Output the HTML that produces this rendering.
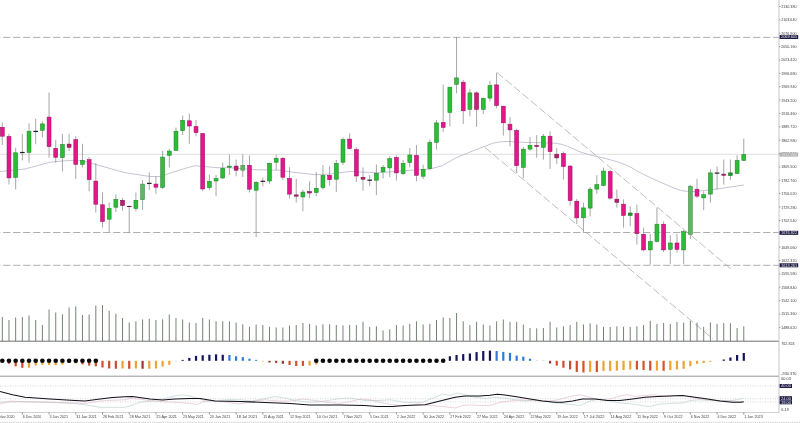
<!DOCTYPE html>
<html lang="en"><head><meta charset="utf-8"><title>XAUUSD Weekly</title>
<style>html,body{margin:0;padding:0;background:#fff;overflow:hidden}svg{display:block;will-change:transform}text{font-family:"Liberation Sans",sans-serif}</style></head><body>
<svg width="800" height="423" viewBox="0 0 800 423">
<rect width="800" height="423" fill="#fff"/>
<line x1="0" y1="154.3" x2="779.0" y2="154.3" stroke="#d0d0d2" stroke-width="0.7"/>
<line x1="-6.9" y1="37.4" x2="779.0" y2="37.4" stroke="#a6a6a6" stroke-width="0.9" stroke-dasharray="7.3 2.7"/>
<line x1="-6.9" y1="232.5" x2="779.0" y2="232.5" stroke="#a6a6a6" stroke-width="0.9" stroke-dasharray="7.3 2.7"/>
<line x1="-6.9" y1="265.3" x2="779.0" y2="265.3" stroke="#a6a6a6" stroke-width="0.9" stroke-dasharray="7.3 2.7"/>
<line x1="497.2" y1="72.6" x2="731.6" y2="269.5" stroke="#a6a6a6" stroke-width="0.75" stroke-dasharray="8 3"/>
<line x1="484.7" y1="147.2" x2="712.6" y2="338.64" stroke="#a6a6a6" stroke-width="0.75" stroke-dasharray="8 3"/>
<g stroke-width="0.8">
<line x1="2.3" y1="317" x2="2.3" y2="341" stroke="#526252"/>
<line x1="8.98" y1="320" x2="8.98" y2="341" stroke="#526252"/>
<line x1="15.66" y1="317.5" x2="15.66" y2="341" stroke="#526252"/>
<line x1="22.34" y1="317" x2="22.34" y2="341" stroke="#526252"/>
<line x1="29.02" y1="315.5" x2="29.02" y2="341" stroke="#526252"/>
<line x1="35.7" y1="320" x2="35.7" y2="341" stroke="#526252"/>
<line x1="42.38" y1="325" x2="42.38" y2="341" stroke="#526252"/>
<line x1="49.06" y1="309.5" x2="49.06" y2="341" stroke="#526252"/>
<line x1="55.74" y1="312.5" x2="55.74" y2="341" stroke="#526252"/>
<line x1="62.42" y1="314.3" x2="62.42" y2="341" stroke="#526252"/>
<line x1="69.1" y1="307.5" x2="69.1" y2="341" stroke="#526252"/>
<line x1="75.78" y1="306.3" x2="75.78" y2="341" stroke="#526252"/>
<line x1="82.46" y1="315" x2="82.46" y2="341" stroke="#526252"/>
<line x1="89.14" y1="314.5" x2="89.14" y2="341" stroke="#526252"/>
<line x1="95.82" y1="305.5" x2="95.82" y2="341" stroke="#526252"/>
<line x1="102.5" y1="305" x2="102.5" y2="341" stroke="#526252"/>
<line x1="109.18" y1="310.8" x2="109.18" y2="341" stroke="#526252"/>
<line x1="115.86" y1="313.8" x2="115.86" y2="341" stroke="#526252"/>
<line x1="122.54" y1="318" x2="122.54" y2="341" stroke="#526252"/>
<line x1="129.22" y1="322.5" x2="129.22" y2="341" stroke="#526252"/>
<line x1="135.9" y1="321.3" x2="135.9" y2="341" stroke="#526252"/>
<line x1="142.58" y1="319.5" x2="142.58" y2="341" stroke="#526252"/>
<line x1="149.26" y1="318.8" x2="149.26" y2="341" stroke="#526252"/>
<line x1="155.94" y1="320" x2="155.94" y2="341" stroke="#526252"/>
<line x1="162.62" y1="319.3" x2="162.62" y2="341" stroke="#526252"/>
<line x1="169.3" y1="314.5" x2="169.3" y2="341" stroke="#526252"/>
<line x1="175.98" y1="318" x2="175.98" y2="341" stroke="#526252"/>
<line x1="182.66" y1="319.5" x2="182.66" y2="341" stroke="#526252"/>
<line x1="189.34" y1="322.5" x2="189.34" y2="341" stroke="#526252"/>
<line x1="196.02" y1="323" x2="196.02" y2="341" stroke="#526252"/>
<line x1="202.7" y1="318" x2="202.7" y2="341" stroke="#526252"/>
<line x1="209.38" y1="319.5" x2="209.38" y2="341" stroke="#526252"/>
<line x1="216.06" y1="321.3" x2="216.06" y2="341" stroke="#526252"/>
<line x1="222.74" y1="321.3" x2="222.74" y2="341" stroke="#526252"/>
<line x1="229.42" y1="321.3" x2="229.42" y2="341" stroke="#526252"/>
<line x1="236.1" y1="322.5" x2="236.1" y2="341" stroke="#526252"/>
<line x1="242.78" y1="324.3" x2="242.78" y2="341" stroke="#526252"/>
<line x1="249.46" y1="326.8" x2="249.46" y2="341" stroke="#526252"/>
<line x1="256.14" y1="324.5" x2="256.14" y2="341" stroke="#526252"/>
<line x1="262.82" y1="325" x2="262.82" y2="341" stroke="#526252"/>
<line x1="269.5" y1="326.8" x2="269.5" y2="341" stroke="#526252"/>
<line x1="276.18" y1="327.5" x2="276.18" y2="341" stroke="#526252"/>
<line x1="282.86" y1="327.5" x2="282.86" y2="341" stroke="#526252"/>
<line x1="289.54" y1="325.5" x2="289.54" y2="341" stroke="#526252"/>
<line x1="296.22" y1="325" x2="296.22" y2="341" stroke="#526252"/>
<line x1="302.9" y1="323" x2="302.9" y2="341" stroke="#526252"/>
<line x1="309.58" y1="323.8" x2="309.58" y2="341" stroke="#526252"/>
<line x1="316.26" y1="325.5" x2="316.26" y2="341" stroke="#526252"/>
<line x1="322.94" y1="324.3" x2="322.94" y2="341" stroke="#526252"/>
<line x1="329.62" y1="324.3" x2="329.62" y2="341" stroke="#526252"/>
<line x1="336.3" y1="325" x2="336.3" y2="341" stroke="#526252"/>
<line x1="342.98" y1="325.5" x2="342.98" y2="341" stroke="#526252"/>
<line x1="349.66" y1="325" x2="349.66" y2="341" stroke="#526252"/>
<line x1="356.34" y1="325" x2="356.34" y2="341" stroke="#526252"/>
<line x1="363.02" y1="321.8" x2="363.02" y2="341" stroke="#526252"/>
<line x1="369.7" y1="326.8" x2="369.7" y2="341" stroke="#526252"/>
<line x1="376.38" y1="326.3" x2="376.38" y2="341" stroke="#526252"/>
<line x1="383.06" y1="330.5" x2="383.06" y2="341" stroke="#526252"/>
<line x1="389.74" y1="329.3" x2="389.74" y2="341" stroke="#526252"/>
<line x1="396.42" y1="325" x2="396.42" y2="341" stroke="#526252"/>
<line x1="403.1" y1="325.5" x2="403.1" y2="341" stroke="#526252"/>
<line x1="409.78" y1="323.8" x2="409.78" y2="341" stroke="#526252"/>
<line x1="416.46" y1="321.3" x2="416.46" y2="341" stroke="#526252"/>
<line x1="423.14" y1="324.5" x2="423.14" y2="341" stroke="#526252"/>
<line x1="429.82" y1="323.8" x2="429.82" y2="341" stroke="#526252"/>
<line x1="436.5" y1="320" x2="436.5" y2="341" stroke="#526252"/>
<line x1="443.18" y1="317.5" x2="443.18" y2="341" stroke="#526252"/>
<line x1="449.86" y1="318" x2="449.86" y2="341" stroke="#526252"/>
<line x1="456.54" y1="313" x2="456.54" y2="341" stroke="#526252"/>
<line x1="463.22" y1="321.3" x2="463.22" y2="341" stroke="#526252"/>
<line x1="469.9" y1="325" x2="469.9" y2="341" stroke="#526252"/>
<line x1="476.58" y1="321.8" x2="476.58" y2="341" stroke="#526252"/>
<line x1="483.26" y1="324.5" x2="483.26" y2="341" stroke="#526252"/>
<line x1="489.94" y1="325.5" x2="489.94" y2="341" stroke="#526252"/>
<line x1="496.62" y1="321.3" x2="496.62" y2="341" stroke="#526252"/>
<line x1="503.3" y1="319.5" x2="503.3" y2="341" stroke="#526252"/>
<line x1="509.98" y1="321.8" x2="509.98" y2="341" stroke="#526252"/>
<line x1="516.66" y1="321.8" x2="516.66" y2="341" stroke="#526252"/>
<line x1="523.34" y1="324.5" x2="523.34" y2="341" stroke="#526252"/>
<line x1="530.02" y1="328" x2="530.02" y2="341" stroke="#526252"/>
<line x1="536.7" y1="328.3" x2="536.7" y2="341" stroke="#526252"/>
<line x1="543.38" y1="328" x2="543.38" y2="341" stroke="#526252"/>
<line x1="550.06" y1="321.8" x2="550.06" y2="341" stroke="#526252"/>
<line x1="556.74" y1="327.5" x2="556.74" y2="341" stroke="#526252"/>
<line x1="563.42" y1="326.3" x2="563.42" y2="341" stroke="#526252"/>
<line x1="570.1" y1="325" x2="570.1" y2="341" stroke="#526252"/>
<line x1="576.78" y1="321.8" x2="576.78" y2="341" stroke="#526252"/>
<line x1="583.46" y1="324.5" x2="583.46" y2="341" stroke="#526252"/>
<line x1="590.14" y1="323.3" x2="590.14" y2="341" stroke="#526252"/>
<line x1="596.82" y1="324.5" x2="596.82" y2="341" stroke="#526252"/>
<line x1="603.5" y1="326.8" x2="603.5" y2="341" stroke="#526252"/>
<line x1="610.18" y1="327" x2="610.18" y2="341" stroke="#526252"/>
<line x1="616.86" y1="326.3" x2="616.86" y2="341" stroke="#526252"/>
<line x1="623.54" y1="326.8" x2="623.54" y2="341" stroke="#526252"/>
<line x1="630.22" y1="327" x2="630.22" y2="341" stroke="#526252"/>
<line x1="636.9" y1="326.3" x2="636.9" y2="341" stroke="#526252"/>
<line x1="643.58" y1="325" x2="643.58" y2="341" stroke="#526252"/>
<line x1="650.26" y1="320.8" x2="650.26" y2="341" stroke="#526252"/>
<line x1="656.94" y1="323.8" x2="656.94" y2="341" stroke="#526252"/>
<line x1="663.62" y1="323" x2="663.62" y2="341" stroke="#526252"/>
<line x1="670.3" y1="323.8" x2="670.3" y2="341" stroke="#526252"/>
<line x1="676.98" y1="322" x2="676.98" y2="341" stroke="#526252"/>
<line x1="683.66" y1="322.5" x2="683.66" y2="341" stroke="#526252"/>
<line x1="690.34" y1="320.8" x2="690.34" y2="341" stroke="#526252"/>
<line x1="697.02" y1="322.5" x2="697.02" y2="341" stroke="#526252"/>
<line x1="703.7" y1="326.8" x2="703.7" y2="341" stroke="#526252"/>
<line x1="710.38" y1="322.5" x2="710.38" y2="341" stroke="#526252"/>
<line x1="717.06" y1="323.8" x2="717.06" y2="341" stroke="#526252"/>
<line x1="723.74" y1="323" x2="723.74" y2="341" stroke="#526252"/>
<line x1="730.42" y1="323.3" x2="730.42" y2="341" stroke="#526252"/>
<line x1="737.1" y1="328" x2="737.1" y2="341" stroke="#526252"/>
<line x1="743.78" y1="326.3" x2="743.78" y2="341" stroke="#526252"/>
</g>
<polyline points="0,171.5 25,169 50,162.2 62.5,161 75,160.2 85,161.4 100,165.7 125,172.7 150,176.5 160,176.5 175,171.5 187.5,167.7 195,165.7 202.5,166.4 217.5,167.7 230,167.7 255,169.7 280,170.2 292.5,172.2 315,174.7 330,174 350,171.4 360,172 380,172.7 405,170.7 430,169 436,167.4 442.5,165.6 455,158.3 467.5,153 480,148.2 486.25,145.7 492.5,143.3 498.75,142 505,141.5 511,141.6 525,142.4 543.75,142.8 555,143.2 561,144.2 567.5,146.25 574,149.2 580,151.9 592.5,155.6 605,158.3 617.5,161.9 625,164.6 631.25,167.5 637.5,171.25 650,177.5 662.5,183.1 675,188.5 681.25,190.6 687.5,191.4 695,191.5 710,190 725,187.8 744,185" fill="none" stroke="#b0b0c8" stroke-width="0.75"/>
<g>
<line x1="2.3" y1="122.5" x2="2.3" y2="145" stroke="#8e8e8e" stroke-width="0.78"/>
<rect x="0.35" y="127.3" width="3.9" height="8.9" fill="#e3168b" stroke="#a10f5f" stroke-width="0.55"/>
<line x1="8.98" y1="133.8" x2="8.98" y2="184.4" stroke="#8e8e8e" stroke-width="0.78"/>
<rect x="7.03" y="136.5" width="3.9" height="41.4" fill="#e3168b" stroke="#a10f5f" stroke-width="0.55"/>
<line x1="15.66" y1="147.7" x2="15.66" y2="189.4" stroke="#8e8e8e" stroke-width="0.78"/>
<rect x="13.71" y="152.8" width="3.9" height="24.6" fill="#2cbd36" stroke="#1c8626" stroke-width="0.55"/>
<line x1="22.34" y1="133.8" x2="22.34" y2="160.4" stroke="#8e8e8e" stroke-width="0.78"/>
<rect x="20.04" y="151.9" width="4.6" height="1.2" fill="#222"/>
<line x1="29.02" y1="123.3" x2="29.02" y2="162.7" stroke="#8e8e8e" stroke-width="0.78"/>
<rect x="27.07" y="131.2" width="3.9" height="21.2" fill="#2cbd36" stroke="#1c8626" stroke-width="0.55"/>
<line x1="35.7" y1="118.6" x2="35.7" y2="144.2" stroke="#8e8e8e" stroke-width="0.78"/>
<rect x="33.4" y="130.8" width="4.6" height="1.2" fill="#222"/>
<line x1="42.38" y1="121.5" x2="42.38" y2="137.2" stroke="#8e8e8e" stroke-width="0.78"/>
<rect x="40.43" y="123.9" width="3.9" height="6.4" fill="#2cbd36" stroke="#1c8626" stroke-width="0.55"/>
<line x1="49.06" y1="92.5" x2="49.06" y2="157.7" stroke="#8e8e8e" stroke-width="0.78"/>
<rect x="47.11" y="117.1" width="3.9" height="29.5" fill="#e3168b" stroke="#a10f5f" stroke-width="0.55"/>
<line x1="55.74" y1="140" x2="55.74" y2="162.7" stroke="#8e8e8e" stroke-width="0.78"/>
<rect x="53.79" y="148.3" width="3.9" height="9" fill="#e3168b" stroke="#a10f5f" stroke-width="0.55"/>
<line x1="62.42" y1="134" x2="62.42" y2="171.4" stroke="#8e8e8e" stroke-width="0.78"/>
<rect x="60.47" y="144.5" width="3.9" height="13" fill="#2cbd36" stroke="#1c8626" stroke-width="0.55"/>
<line x1="69.1" y1="133.8" x2="69.1" y2="151" stroke="#8e8e8e" stroke-width="0.78"/>
<rect x="67.15" y="144.1" width="3.9" height="3.2" fill="#bd1c70" stroke="#7f0c48" stroke-width="0.55"/>
<line x1="75.78" y1="136.3" x2="75.78" y2="178.9" stroke="#8e8e8e" stroke-width="0.78"/>
<rect x="73.83" y="139.7" width="3.9" height="24.6" fill="#e3168b" stroke="#a10f5f" stroke-width="0.55"/>
<line x1="82.46" y1="143.8" x2="82.46" y2="167.6" stroke="#8e8e8e" stroke-width="0.78"/>
<rect x="80.51" y="160.4" width="3.9" height="3.9" fill="#2cbd36" stroke="#1c8626" stroke-width="0.55"/>
<line x1="89.14" y1="157" x2="89.14" y2="191.3" stroke="#8e8e8e" stroke-width="0.78"/>
<rect x="87.19" y="159.7" width="3.9" height="20" fill="#e3168b" stroke="#a10f5f" stroke-width="0.55"/>
<line x1="95.82" y1="163" x2="95.82" y2="212.5" stroke="#8e8e8e" stroke-width="0.78"/>
<rect x="93.87" y="181.1" width="3.9" height="23.1" fill="#e3168b" stroke="#a10f5f" stroke-width="0.55"/>
<line x1="102.5" y1="192.5" x2="102.5" y2="227.5" stroke="#8e8e8e" stroke-width="0.78"/>
<rect x="100.55" y="204.8" width="3.9" height="16.7" fill="#e3168b" stroke="#a10f5f" stroke-width="0.55"/>
<line x1="109.18" y1="202.5" x2="109.18" y2="232.5" stroke="#8e8e8e" stroke-width="0.78"/>
<rect x="107.23" y="208.6" width="3.9" height="10.6" fill="#2cbd36" stroke="#1c8626" stroke-width="0.55"/>
<line x1="115.86" y1="194.5" x2="115.86" y2="212" stroke="#8e8e8e" stroke-width="0.78"/>
<rect x="113.91" y="199.3" width="3.9" height="7.9" fill="#2cbd36" stroke="#1c8626" stroke-width="0.55"/>
<line x1="122.54" y1="198" x2="122.54" y2="210.8" stroke="#8e8e8e" stroke-width="0.78"/>
<rect x="120.59" y="200.3" width="3.9" height="5.2" fill="#bd1c70" stroke="#7f0c48" stroke-width="0.55"/>
<line x1="129.22" y1="205.5" x2="129.22" y2="232.5" stroke="#8e8e8e" stroke-width="0.78"/>
<rect x="126.92" y="206" width="4.6" height="1" fill="#6a0f3c"/>
<line x1="135.9" y1="192.5" x2="135.9" y2="211.3" stroke="#8e8e8e" stroke-width="0.78"/>
<rect x="133.95" y="200.3" width="3.9" height="8.2" fill="#2cbd36" stroke="#1c8626" stroke-width="0.55"/>
<line x1="142.58" y1="180" x2="142.58" y2="210" stroke="#8e8e8e" stroke-width="0.78"/>
<rect x="140.63" y="184.1" width="3.9" height="15.6" fill="#5fb665" stroke="#3f8a47" stroke-width="0.55"/>
<line x1="149.26" y1="172.5" x2="149.26" y2="190" stroke="#8e8e8e" stroke-width="0.78"/>
<rect x="146.96" y="182.8" width="4.6" height="1.2" fill="#222"/>
<line x1="155.94" y1="176.3" x2="155.94" y2="193.8" stroke="#8e8e8e" stroke-width="0.78"/>
<rect x="153.99" y="184.1" width="3.9" height="3.1" fill="#e3168b" stroke="#a10f5f" stroke-width="0.55"/>
<line x1="162.62" y1="150.7" x2="162.62" y2="189" stroke="#8e8e8e" stroke-width="0.78"/>
<rect x="160.67" y="157.1" width="3.9" height="30.2" fill="#3bb844" stroke="#1f8528" stroke-width="0.55"/>
<line x1="169.3" y1="148.9" x2="169.3" y2="167.6" stroke="#8e8e8e" stroke-width="0.78"/>
<rect x="167.35" y="151.1" width="3.9" height="4.2" fill="#2cbd36" stroke="#1c8626" stroke-width="0.55"/>
<line x1="175.98" y1="127.6" x2="175.98" y2="150.7" stroke="#8e8e8e" stroke-width="0.78"/>
<rect x="174.03" y="131.2" width="3.9" height="19.2" fill="#2cbd36" stroke="#1c8626" stroke-width="0.55"/>
<line x1="182.66" y1="115.5" x2="182.66" y2="135" stroke="#8e8e8e" stroke-width="0.78"/>
<rect x="180.71" y="120.3" width="3.9" height="10.4" fill="#2cbd36" stroke="#1c8626" stroke-width="0.55"/>
<line x1="189.34" y1="113.8" x2="189.34" y2="143.8" stroke="#8e8e8e" stroke-width="0.78"/>
<rect x="187.39" y="120.8" width="3.9" height="5.2" fill="#e3168b" stroke="#a10f5f" stroke-width="0.55"/>
<line x1="196.02" y1="120" x2="196.02" y2="136.3" stroke="#8e8e8e" stroke-width="0.78"/>
<rect x="194.07" y="126.6" width="3.9" height="6.1" fill="#e3168b" stroke="#a10f5f" stroke-width="0.55"/>
<line x1="202.7" y1="133.2" x2="202.7" y2="191.3" stroke="#8e8e8e" stroke-width="0.78"/>
<rect x="200.75" y="133.5" width="3.9" height="55.5" fill="#e3168b" stroke="#a10f5f" stroke-width="0.55"/>
<line x1="209.38" y1="174.5" x2="209.38" y2="190" stroke="#8e8e8e" stroke-width="0.78"/>
<rect x="207.43" y="181.3" width="3.9" height="6.4" fill="#2cbd36" stroke="#1c8626" stroke-width="0.55"/>
<line x1="216.06" y1="175" x2="216.06" y2="196.3" stroke="#8e8e8e" stroke-width="0.78"/>
<rect x="214.11" y="178.6" width="3.9" height="2.4" fill="#2cbd36" stroke="#1c8626" stroke-width="0.55"/>
<line x1="222.74" y1="162.5" x2="222.74" y2="178.8" stroke="#8e8e8e" stroke-width="0.78"/>
<rect x="220.79" y="168.3" width="3.9" height="9.7" fill="#2cbd36" stroke="#1c8626" stroke-width="0.55"/>
<line x1="229.42" y1="154.5" x2="229.42" y2="175" stroke="#8e8e8e" stroke-width="0.78"/>
<rect x="227.47" y="166.1" width="3.9" height="1.1" fill="#2cbd36" stroke="#1c8626" stroke-width="0.55"/>
<line x1="236.1" y1="159.5" x2="236.1" y2="176.3" stroke="#8e8e8e" stroke-width="0.78"/>
<rect x="234.15" y="166.1" width="3.9" height="4.1" fill="#bd1c70" stroke="#7f0c48" stroke-width="0.55"/>
<line x1="242.78" y1="154.5" x2="242.78" y2="177" stroke="#8e8e8e" stroke-width="0.78"/>
<rect x="240.83" y="165.3" width="3.9" height="4.9" fill="#5fb665" stroke="#3f8a47" stroke-width="0.55"/>
<line x1="249.46" y1="155.5" x2="249.46" y2="192.5" stroke="#8e8e8e" stroke-width="0.78"/>
<rect x="247.51" y="165.3" width="3.9" height="23.9" fill="#e3168b" stroke="#a10f5f" stroke-width="0.55"/>
<line x1="256.14" y1="181" x2="256.14" y2="237" stroke="#8e8e8e" stroke-width="0.78"/>
<rect x="254.19" y="182.3" width="3.9" height="7.9" fill="#2cbd36" stroke="#1c8626" stroke-width="0.55"/>
<line x1="262.82" y1="177.5" x2="262.82" y2="186.3" stroke="#8e8e8e" stroke-width="0.78"/>
<rect x="260.52" y="180.7" width="4.6" height="1.2" fill="#222"/>
<line x1="269.5" y1="162.5" x2="269.5" y2="183.8" stroke="#8e8e8e" stroke-width="0.78"/>
<rect x="267.55" y="163.3" width="3.9" height="17.7" fill="#2cbd36" stroke="#1c8626" stroke-width="0.55"/>
<line x1="276.18" y1="154.5" x2="276.18" y2="170" stroke="#8e8e8e" stroke-width="0.78"/>
<rect x="274.23" y="158.3" width="3.9" height="3.9" fill="#2cbd36" stroke="#1c8626" stroke-width="0.55"/>
<line x1="282.86" y1="157" x2="282.86" y2="180" stroke="#8e8e8e" stroke-width="0.78"/>
<rect x="280.91" y="158.3" width="3.9" height="18.9" fill="#e3168b" stroke="#a10f5f" stroke-width="0.55"/>
<line x1="289.54" y1="167.2" x2="289.54" y2="198.8" stroke="#8e8e8e" stroke-width="0.78"/>
<rect x="287.59" y="178.5" width="3.9" height="15.6" fill="#e3168b" stroke="#a10f5f" stroke-width="0.55"/>
<line x1="296.22" y1="178.8" x2="296.22" y2="202.5" stroke="#8e8e8e" stroke-width="0.78"/>
<rect x="294.27" y="194.9" width="3.9" height="1.3" fill="#bd1c70" stroke="#7f0c48" stroke-width="0.55"/>
<line x1="302.9" y1="189.7" x2="302.9" y2="211.3" stroke="#8e8e8e" stroke-width="0.78"/>
<rect x="300.95" y="192.1" width="3.9" height="4.9" fill="#2cbd36" stroke="#1c8626" stroke-width="0.55"/>
<line x1="309.58" y1="181.3" x2="309.58" y2="198.2" stroke="#8e8e8e" stroke-width="0.78"/>
<rect x="307.63" y="191.6" width="3.9" height="1.4" fill="#bd1c70" stroke="#7f0c48" stroke-width="0.55"/>
<line x1="316.26" y1="172" x2="316.26" y2="196.3" stroke="#8e8e8e" stroke-width="0.78"/>
<rect x="314.31" y="188.3" width="3.9" height="4.2" fill="#2cbd36" stroke="#1c8626" stroke-width="0.55"/>
<line x1="322.94" y1="165" x2="322.94" y2="189.5" stroke="#8e8e8e" stroke-width="0.78"/>
<rect x="320.99" y="175.3" width="3.9" height="12.4" fill="#2cbd36" stroke="#1c8626" stroke-width="0.55"/>
<line x1="329.62" y1="166.3" x2="329.62" y2="185.8" stroke="#8e8e8e" stroke-width="0.78"/>
<rect x="327.67" y="175.3" width="3.9" height="4.4" fill="#e3168b" stroke="#a10f5f" stroke-width="0.55"/>
<line x1="336.3" y1="160" x2="336.3" y2="192" stroke="#8e8e8e" stroke-width="0.78"/>
<rect x="334.35" y="163.3" width="3.9" height="15.9" fill="#2cbd36" stroke="#1c8626" stroke-width="0.55"/>
<line x1="342.98" y1="137.5" x2="342.98" y2="165" stroke="#8e8e8e" stroke-width="0.78"/>
<rect x="341.03" y="139.6" width="3.9" height="22.6" fill="#2cbd36" stroke="#1c8626" stroke-width="0.55"/>
<line x1="349.66" y1="133.3" x2="349.66" y2="149.5" stroke="#8e8e8e" stroke-width="0.78"/>
<rect x="347.71" y="139.1" width="3.9" height="9.4" fill="#e3168b" stroke="#a10f5f" stroke-width="0.55"/>
<line x1="356.34" y1="147.5" x2="356.34" y2="182" stroke="#8e8e8e" stroke-width="0.78"/>
<rect x="354.39" y="149.6" width="3.9" height="26.4" fill="#e3168b" stroke="#a10f5f" stroke-width="0.55"/>
<line x1="363.02" y1="167.5" x2="363.02" y2="190.8" stroke="#8e8e8e" stroke-width="0.78"/>
<rect x="361.07" y="177.3" width="3.9" height="1.9" fill="#bd1c70" stroke="#7f0c48" stroke-width="0.55"/>
<line x1="369.7" y1="175" x2="369.7" y2="186.3" stroke="#8e8e8e" stroke-width="0.78"/>
<rect x="367.4" y="179.6" width="4.6" height="1.2" fill="#222"/>
<line x1="376.38" y1="164.5" x2="376.38" y2="195" stroke="#8e8e8e" stroke-width="0.78"/>
<rect x="374.43" y="173.3" width="3.9" height="6.9" fill="#2cbd36" stroke="#1c8626" stroke-width="0.55"/>
<line x1="383.06" y1="165" x2="383.06" y2="178.5" stroke="#8e8e8e" stroke-width="0.78"/>
<rect x="381.11" y="167.4" width="3.9" height="4.4" fill="#2cbd36" stroke="#1c8626" stroke-width="0.55"/>
<line x1="389.74" y1="156.3" x2="389.74" y2="177.2" stroke="#8e8e8e" stroke-width="0.78"/>
<rect x="387.79" y="158.5" width="3.9" height="9.4" fill="#2cbd36" stroke="#1c8626" stroke-width="0.55"/>
<line x1="396.42" y1="155.5" x2="396.42" y2="180.5" stroke="#8e8e8e" stroke-width="0.78"/>
<rect x="394.47" y="157.5" width="3.9" height="15.4" fill="#e3168b" stroke="#a10f5f" stroke-width="0.55"/>
<line x1="403.1" y1="160.1" x2="403.1" y2="175.1" stroke="#8e8e8e" stroke-width="0.78"/>
<rect x="401.15" y="163.4" width="3.9" height="10.3" fill="#2cbd36" stroke="#1c8626" stroke-width="0.55"/>
<line x1="409.78" y1="148.1" x2="409.78" y2="167.2" stroke="#8e8e8e" stroke-width="0.78"/>
<rect x="407.83" y="155" width="3.9" height="7.5" fill="#2cbd36" stroke="#1c8626" stroke-width="0.55"/>
<line x1="416.46" y1="145.1" x2="416.46" y2="181.4" stroke="#8e8e8e" stroke-width="0.78"/>
<rect x="414.51" y="155.5" width="3.9" height="19.8" fill="#e3168b" stroke="#a10f5f" stroke-width="0.55"/>
<line x1="423.14" y1="164.7" x2="423.14" y2="179" stroke="#8e8e8e" stroke-width="0.78"/>
<rect x="421.19" y="169.5" width="3.9" height="6.7" fill="#2cbd36" stroke="#1c8626" stroke-width="0.55"/>
<line x1="429.82" y1="139.6" x2="429.82" y2="169.5" stroke="#8e8e8e" stroke-width="0.78"/>
<rect x="427.87" y="142.4" width="3.9" height="26.3" fill="#2cbd36" stroke="#1c8626" stroke-width="0.55"/>
<line x1="436.5" y1="120.1" x2="436.5" y2="149.6" stroke="#8e8e8e" stroke-width="0.78"/>
<rect x="434.55" y="122.9" width="3.9" height="19.4" fill="#2cbd36" stroke="#1c8626" stroke-width="0.55"/>
<line x1="443.18" y1="84.6" x2="443.18" y2="132.1" stroke="#8e8e8e" stroke-width="0.78"/>
<rect x="441.23" y="122.4" width="3.9" height="5" fill="#e3168b" stroke="#a10f5f" stroke-width="0.55"/>
<line x1="449.86" y1="86.9" x2="449.86" y2="126.4" stroke="#8e8e8e" stroke-width="0.78"/>
<rect x="447.91" y="87.2" width="3.9" height="25.2" fill="#2cbd36" stroke="#1c8626" stroke-width="0.55"/>
<line x1="456.54" y1="37" x2="456.54" y2="93.2" stroke="#8e8e8e" stroke-width="0.78"/>
<rect x="454.59" y="77.9" width="3.9" height="6.4" fill="#3bb844" stroke="#1f8528" stroke-width="0.55"/>
<line x1="463.22" y1="80" x2="463.22" y2="124" stroke="#8e8e8e" stroke-width="0.78"/>
<rect x="461.27" y="82.2" width="3.9" height="28.6" fill="#e3168b" stroke="#a10f5f" stroke-width="0.55"/>
<line x1="469.9" y1="88.9" x2="469.9" y2="116.4" stroke="#8e8e8e" stroke-width="0.78"/>
<rect x="467.95" y="92.9" width="3.9" height="16.4" fill="#2cbd36" stroke="#1c8626" stroke-width="0.55"/>
<line x1="476.58" y1="91.4" x2="476.58" y2="126.8" stroke="#8e8e8e" stroke-width="0.78"/>
<rect x="474.63" y="92.9" width="3.9" height="16.4" fill="#cc1f7b" stroke="#8a0c52" stroke-width="0.55"/>
<line x1="483.26" y1="97.5" x2="483.26" y2="114.2" stroke="#8e8e8e" stroke-width="0.78"/>
<rect x="481.31" y="98.4" width="3.9" height="10.9" fill="#2cbd36" stroke="#1c8626" stroke-width="0.55"/>
<line x1="489.94" y1="80.6" x2="489.94" y2="101.4" stroke="#8e8e8e" stroke-width="0.78"/>
<rect x="487.99" y="85.5" width="3.9" height="12.6" fill="#2cbd36" stroke="#1c8626" stroke-width="0.55"/>
<line x1="496.62" y1="72.6" x2="496.62" y2="108.3" stroke="#8e8e8e" stroke-width="0.78"/>
<rect x="494.67" y="84.9" width="3.9" height="20.6" fill="#e3168b" stroke="#a10f5f" stroke-width="0.55"/>
<line x1="503.3" y1="105.9" x2="503.3" y2="135.6" stroke="#8e8e8e" stroke-width="0.78"/>
<rect x="501.35" y="106.2" width="3.9" height="16.6" fill="#e3168b" stroke="#a10f5f" stroke-width="0.55"/>
<line x1="509.98" y1="117.1" x2="509.98" y2="146.4" stroke="#8e8e8e" stroke-width="0.78"/>
<rect x="508.03" y="124.2" width="3.9" height="5.7" fill="#e3168b" stroke="#a10f5f" stroke-width="0.55"/>
<line x1="516.66" y1="128.8" x2="516.66" y2="173.1" stroke="#8e8e8e" stroke-width="0.78"/>
<rect x="514.71" y="130.4" width="3.9" height="35.3" fill="#e3168b" stroke="#a10f5f" stroke-width="0.55"/>
<line x1="523.34" y1="147.1" x2="523.34" y2="178.1" stroke="#8e8e8e" stroke-width="0.78"/>
<rect x="521.39" y="149.2" width="3.9" height="18.2" fill="#2cbd36" stroke="#1c8626" stroke-width="0.55"/>
<line x1="530.02" y1="137.1" x2="530.02" y2="150.6" stroke="#8e8e8e" stroke-width="0.78"/>
<rect x="528.07" y="145.4" width="3.9" height="3.7" fill="#2cbd36" stroke="#1c8626" stroke-width="0.55"/>
<line x1="536.7" y1="135.1" x2="536.7" y2="157.7" stroke="#8e8e8e" stroke-width="0.78"/>
<rect x="534.75" y="145.4" width="3.9" height="1.2" fill="#bd1c70" stroke="#7f0c48" stroke-width="0.55"/>
<line x1="543.38" y1="133.9" x2="543.38" y2="159.7" stroke="#8e8e8e" stroke-width="0.78"/>
<rect x="541.43" y="136.2" width="3.9" height="11.1" fill="#2cbd36" stroke="#1c8626" stroke-width="0.55"/>
<line x1="550.06" y1="131.4" x2="550.06" y2="169" stroke="#8e8e8e" stroke-width="0.78"/>
<rect x="548.11" y="136.2" width="3.9" height="15.4" fill="#e3168b" stroke="#a10f5f" stroke-width="0.55"/>
<line x1="556.74" y1="148.1" x2="556.74" y2="163.9" stroke="#8e8e8e" stroke-width="0.78"/>
<rect x="554.79" y="154.2" width="3.9" height="3.7" fill="#bd1c70" stroke="#7f0c48" stroke-width="0.55"/>
<line x1="563.42" y1="151.4" x2="563.42" y2="179.6" stroke="#8e8e8e" stroke-width="0.78"/>
<rect x="561.47" y="153.6" width="3.9" height="12.9" fill="#e3168b" stroke="#a10f5f" stroke-width="0.55"/>
<line x1="570.1" y1="165" x2="570.1" y2="205.7" stroke="#8e8e8e" stroke-width="0.78"/>
<rect x="568.15" y="166.1" width="3.9" height="34.5" fill="#e3168b" stroke="#a10f5f" stroke-width="0.55"/>
<line x1="576.78" y1="198.9" x2="576.78" y2="224" stroke="#8e8e8e" stroke-width="0.78"/>
<rect x="574.83" y="201.2" width="3.9" height="16.7" fill="#e3168b" stroke="#a10f5f" stroke-width="0.55"/>
<line x1="583.46" y1="202.7" x2="583.46" y2="232.1" stroke="#8e8e8e" stroke-width="0.78"/>
<rect x="581.51" y="207.9" width="3.9" height="9.9" fill="#2cbd36" stroke="#1c8626" stroke-width="0.55"/>
<line x1="590.14" y1="187.1" x2="590.14" y2="216.4" stroke="#8e8e8e" stroke-width="0.78"/>
<rect x="588.19" y="189.2" width="3.9" height="18.9" fill="#2cbd36" stroke="#1c8626" stroke-width="0.55"/>
<line x1="596.82" y1="175.1" x2="596.82" y2="193.9" stroke="#8e8e8e" stroke-width="0.78"/>
<rect x="594.87" y="184.7" width="3.9" height="4.4" fill="#2cbd36" stroke="#1c8626" stroke-width="0.55"/>
<line x1="603.5" y1="167.6" x2="603.5" y2="186.4" stroke="#8e8e8e" stroke-width="0.78"/>
<rect x="601.55" y="171.1" width="3.9" height="14.2" fill="#2cbd36" stroke="#1c8626" stroke-width="0.55"/>
<line x1="610.18" y1="170.1" x2="610.18" y2="199.6" stroke="#8e8e8e" stroke-width="0.78"/>
<rect x="608.23" y="171.6" width="3.9" height="26.5" fill="#e3168b" stroke="#a10f5f" stroke-width="0.55"/>
<line x1="616.86" y1="189.6" x2="616.86" y2="207.6" stroke="#8e8e8e" stroke-width="0.78"/>
<rect x="614.91" y="199.2" width="3.9" height="3.1" fill="#bd1c70" stroke="#7f0c48" stroke-width="0.55"/>
<line x1="623.54" y1="199.4" x2="623.54" y2="227.7" stroke="#8e8e8e" stroke-width="0.78"/>
<rect x="621.59" y="204.2" width="3.9" height="11.2" fill="#e3168b" stroke="#a10f5f" stroke-width="0.55"/>
<line x1="630.22" y1="206.4" x2="630.22" y2="226.4" stroke="#8e8e8e" stroke-width="0.78"/>
<rect x="628.27" y="213" width="3.9" height="2.4" fill="#1f9a28" stroke="#146a1b" stroke-width="0.55"/>
<line x1="636.9" y1="204.6" x2="636.9" y2="244.6" stroke="#8e8e8e" stroke-width="0.78"/>
<rect x="634.95" y="213.6" width="3.9" height="20.1" fill="#e3168b" stroke="#a10f5f" stroke-width="0.55"/>
<line x1="643.58" y1="227.7" x2="643.58" y2="251.4" stroke="#8e8e8e" stroke-width="0.78"/>
<rect x="641.63" y="234.3" width="3.9" height="15.6" fill="#e3168b" stroke="#a10f5f" stroke-width="0.55"/>
<line x1="650.26" y1="233.9" x2="650.26" y2="264.7" stroke="#8e8e8e" stroke-width="0.78"/>
<rect x="648.31" y="241.7" width="3.9" height="8.2" fill="#2cbd36" stroke="#1c8626" stroke-width="0.55"/>
<line x1="656.94" y1="207.6" x2="656.94" y2="242.5" stroke="#8e8e8e" stroke-width="0.78"/>
<rect x="654.99" y="224.2" width="3.9" height="17.2" fill="#2cbd36" stroke="#1c8626" stroke-width="0.55"/>
<line x1="663.62" y1="221.4" x2="663.62" y2="252.2" stroke="#8e8e8e" stroke-width="0.78"/>
<rect x="661.67" y="224.2" width="3.9" height="25.7" fill="#e3168b" stroke="#a10f5f" stroke-width="0.55"/>
<line x1="670.3" y1="235.1" x2="670.3" y2="264" stroke="#8e8e8e" stroke-width="0.78"/>
<rect x="668.35" y="243" width="3.9" height="6.3" fill="#2cbd36" stroke="#1c8626" stroke-width="0.55"/>
<line x1="676.98" y1="233.9" x2="676.98" y2="252.7" stroke="#8e8e8e" stroke-width="0.78"/>
<rect x="675.03" y="243" width="3.9" height="6.3" fill="#e3168b" stroke="#a10f5f" stroke-width="0.55"/>
<line x1="683.66" y1="230.2" x2="683.66" y2="264" stroke="#8e8e8e" stroke-width="0.78"/>
<rect x="681.71" y="231.7" width="3.9" height="18.2" fill="#2cbd36" stroke="#1c8626" stroke-width="0.55"/>
<line x1="690.34" y1="185.1" x2="690.34" y2="239" stroke="#8e8e8e" stroke-width="0.78"/>
<rect x="688.39" y="186.2" width="3.9" height="48.2" fill="#5fb665" stroke="#3f8a47" stroke-width="0.55"/>
<line x1="697.02" y1="178.8" x2="697.02" y2="198.1" stroke="#8e8e8e" stroke-width="0.78"/>
<rect x="695.07" y="189.2" width="3.9" height="6.9" fill="#e3168b" stroke="#a10f5f" stroke-width="0.55"/>
<line x1="703.7" y1="191.4" x2="703.7" y2="210.2" stroke="#8e8e8e" stroke-width="0.78"/>
<rect x="701.75" y="194.7" width="3.9" height="3.2" fill="#2cbd36" stroke="#1c8626" stroke-width="0.55"/>
<line x1="710.38" y1="169.4" x2="710.38" y2="202.7" stroke="#8e8e8e" stroke-width="0.78"/>
<rect x="708.43" y="172.9" width="3.9" height="21.2" fill="#3bb844" stroke="#1f8528" stroke-width="0.55"/>
<line x1="717.06" y1="166.5" x2="717.06" y2="189.6" stroke="#8e8e8e" stroke-width="0.78"/>
<rect x="714.76" y="172.5" width="4.6" height="1.2" fill="#222"/>
<line x1="723.74" y1="159.5" x2="723.74" y2="184.6" stroke="#8e8e8e" stroke-width="0.78"/>
<rect x="721.79" y="174.1" width="3.9" height="1.2" fill="#bd1c70" stroke="#7f0c48" stroke-width="0.55"/>
<line x1="730.42" y1="159.5" x2="730.42" y2="180.1" stroke="#8e8e8e" stroke-width="0.78"/>
<rect x="728.47" y="172.9" width="3.9" height="2.6" fill="#1f9a28" stroke="#146a1b" stroke-width="0.55"/>
<line x1="737.1" y1="155.2" x2="737.1" y2="174" stroke="#8e8e8e" stroke-width="0.78"/>
<rect x="735.15" y="160.4" width="3.9" height="13.1" fill="#2cbd36" stroke="#1c8626" stroke-width="0.55"/>
<line x1="743.78" y1="138.5" x2="743.78" y2="161" stroke="#8e8e8e" stroke-width="0.78"/>
<rect x="741.83" y="154.6" width="3.9" height="5.7" fill="#2cbd36" stroke="#1c8626" stroke-width="0.55"/>
</g>
<line x1="0" y1="341.2" x2="779.0" y2="341.2" stroke="#6e6e6e" stroke-width="1"/>
<line x1="0" y1="376.2" x2="779.0" y2="376.2" stroke="#979797" stroke-width="1"/>
<g>
<rect x="1.2" y="360.8" width="2.2" height="0.2" fill="#d24a2c"/>
<rect x="7.88" y="360.8" width="2.2" height="3.2" fill="#e87060"/>
<rect x="14.56" y="360.8" width="2.2" height="5.5" fill="#d24a2c"/>
<rect x="21.24" y="360.8" width="2.2" height="7" fill="#d24a2c"/>
<rect x="27.92" y="360.8" width="2.2" height="7" fill="#eda232"/>
<rect x="34.6" y="360.8" width="2.2" height="4.8" fill="#eda232"/>
<rect x="41.28" y="360.8" width="2.2" height="4" fill="#eda232"/>
<rect x="47.96" y="360.8" width="2.2" height="4.2" fill="#eda232"/>
<rect x="54.64" y="360.8" width="2.2" height="4.5" fill="#eda232"/>
<rect x="61.32" y="360.8" width="2.2" height="3.8" fill="#eda232"/>
<rect x="68" y="360.8" width="2.2" height="2.2" fill="#eda232"/>
<rect x="74.68" y="360.8" width="2.2" height="2.7" fill="#eda232"/>
<rect x="81.36" y="360.8" width="2.2" height="3.6" fill="#d24a2c"/>
<rect x="88.04" y="360.8" width="2.2" height="4.8" fill="#d24a2c"/>
<rect x="94.72" y="360.8" width="2.2" height="5.5" fill="#d24a2c"/>
<rect x="101.4" y="360.8" width="2.2" height="6.7" fill="#d24a2c"/>
<rect x="108.08" y="360.8" width="2.2" height="7.7" fill="#d24a2c"/>
<rect x="114.76" y="360.8" width="2.2" height="7.95" fill="#d24a2c"/>
<rect x="121.44" y="360.8" width="2.2" height="7.7" fill="#eda232"/>
<rect x="128.12" y="360.8" width="2.2" height="7.95" fill="#d24a2c"/>
<rect x="134.8" y="360.8" width="2.2" height="7.7" fill="#eda232"/>
<rect x="141.48" y="360.8" width="2.2" height="7.95" fill="#9c3626"/>
<rect x="148.16" y="360.8" width="2.2" height="7.95" fill="#eda232"/>
<rect x="154.84" y="360.8" width="2.2" height="7.7" fill="#eda232"/>
<rect x="161.52" y="360.8" width="2.2" height="5.8" fill="#eda232"/>
<rect x="168.2" y="360.8" width="2.2" height="3.95" fill="#eda232"/>
<rect x="174.88" y="360.8" width="2.2" height="0.7" fill="#d8cfc4"/>
<rect x="181.56" y="359.9" width="2.2" height="0.9" fill="#12125e"/>
<rect x="188.24" y="357.9" width="2.2" height="2.9" fill="#12125e"/>
<rect x="194.92" y="355.9" width="2.2" height="4.9" fill="#12125e"/>
<rect x="201.6" y="355.25" width="2.2" height="5.55" fill="#12125e"/>
<rect x="208.28" y="354.75" width="2.2" height="6.05" fill="#12125e"/>
<rect x="214.96" y="354.4" width="2.2" height="6.4" fill="#12125e"/>
<rect x="221.64" y="354.75" width="2.2" height="6.05" fill="#12125e"/>
<rect x="228.32" y="355" width="2.2" height="5.8" fill="#2f7ad6"/>
<rect x="235" y="356.25" width="2.2" height="4.55" fill="#2f7ad6"/>
<rect x="241.68" y="357.1" width="2.2" height="3.7" fill="#2f7ad6"/>
<rect x="248.36" y="358.75" width="2.2" height="2.05" fill="#2f7ad6"/>
<rect x="255.04" y="359.9" width="2.2" height="0.9" fill="#2f7ad6"/>
<rect x="261.72" y="360.8" width="2.2" height="0.6" fill="#eda232"/>
<rect x="268.4" y="360.8" width="2.2" height="1.7" fill="#9c3626"/>
<rect x="275.08" y="360.8" width="2.2" height="2.1" fill="#9c3626"/>
<rect x="281.76" y="360.8" width="2.2" height="2.95" fill="#9c3626"/>
<rect x="288.44" y="360.8" width="2.2" height="4.2" fill="#d4522c"/>
<rect x="295.12" y="360.8" width="2.2" height="5.2" fill="#d4522c"/>
<rect x="301.8" y="360.8" width="2.2" height="5.1" fill="#d4522c"/>
<rect x="308.48" y="360.8" width="2.2" height="4.8" fill="#eda232"/>
<rect x="315.16" y="360.8" width="2.2" height="3.6" fill="#eda232"/>
<rect x="448.76" y="356.25" width="2.2" height="4.55" fill="#12125e"/>
<rect x="455.44" y="355" width="2.2" height="5.8" fill="#12125e"/>
<rect x="462.12" y="354.1" width="2.2" height="6.7" fill="#12125e"/>
<rect x="468.8" y="353.5" width="2.2" height="7.3" fill="#12125e"/>
<rect x="475.48" y="352.1" width="2.2" height="8.7" fill="#12125e"/>
<rect x="482.16" y="351" width="2.2" height="9.8" fill="#12125e"/>
<rect x="488.84" y="350.6" width="2.2" height="10.2" fill="#12125e"/>
<rect x="495.52" y="351" width="2.2" height="9.8" fill="#2f7ad6"/>
<rect x="502.2" y="351.9" width="2.2" height="8.9" fill="#2f7ad6"/>
<rect x="508.88" y="352.9" width="2.2" height="7.9" fill="#2f7ad6"/>
<rect x="515.56" y="355.6" width="2.2" height="5.2" fill="#2f7ad6"/>
<rect x="522.24" y="356.6" width="2.2" height="4.2" fill="#2f7ad6"/>
<rect x="528.92" y="358.75" width="2.2" height="2.05" fill="#2f7ad6"/>
<rect x="535.6" y="360.2" width="2.2" height="0.6" fill="#d8cfc4"/>
<rect x="542.28" y="360.2" width="2.2" height="0.6" fill="#d8cfc4"/>
<rect x="548.96" y="360.8" width="2.2" height="2.7" fill="#9c3626"/>
<rect x="555.64" y="360.8" width="2.2" height="4.8" fill="#d24a2c"/>
<rect x="562.32" y="360.8" width="2.2" height="6.95" fill="#d24a2c"/>
<rect x="569" y="360.8" width="2.2" height="8.6" fill="#d24a2c"/>
<rect x="575.68" y="360.8" width="2.2" height="11.1" fill="#d24a2c"/>
<rect x="582.36" y="360.8" width="2.2" height="11.7" fill="#d4522c"/>
<rect x="589.04" y="360.8" width="2.2" height="11.1" fill="#eda232"/>
<rect x="595.72" y="360.8" width="2.2" height="11.3" fill="#d4522c"/>
<rect x="602.4" y="360.8" width="2.2" height="10.2" fill="#eda232"/>
<rect x="609.08" y="360.8" width="2.2" height="10.1" fill="#eda232"/>
<rect x="615.76" y="360.8" width="2.2" height="9.8" fill="#eda232"/>
<rect x="622.44" y="360.8" width="2.2" height="9.2" fill="#eda232"/>
<rect x="629.12" y="360.8" width="2.2" height="8.7" fill="#eda232"/>
<rect x="635.8" y="360.8" width="2.2" height="8.7" fill="#d4522c"/>
<rect x="642.48" y="360.8" width="2.2" height="9.2" fill="#d4522c"/>
<rect x="649.16" y="360.8" width="2.2" height="9.7" fill="#d24a2c"/>
<rect x="655.84" y="360.8" width="2.2" height="9.7" fill="#eda232"/>
<rect x="662.52" y="360.8" width="2.2" height="10" fill="#d4522c"/>
<rect x="669.2" y="360.8" width="2.2" height="9.2" fill="#eda232"/>
<rect x="675.88" y="360.8" width="2.2" height="8.7" fill="#eda232"/>
<rect x="682.56" y="360.8" width="2.2" height="8" fill="#eda232"/>
<rect x="689.24" y="360.8" width="2.2" height="5.5" fill="#eda232"/>
<rect x="695.92" y="360.8" width="2.2" height="3" fill="#eda232"/>
<rect x="702.6" y="360.8" width="2.2" height="2.2" fill="#eda232"/>
<rect x="709.28" y="360.8" width="2.2" height="1" fill="#eda232"/>
<rect x="715.96" y="360.8" width="2.2" height="0.2" fill="#d8cfc4"/>
<rect x="722.64" y="359.5" width="2.2" height="1.3" fill="#12125e"/>
<rect x="729.32" y="357.5" width="2.2" height="3.3" fill="#12125e"/>
<rect x="736" y="355" width="2.2" height="5.8" fill="#12125e"/>
<rect x="742.68" y="353" width="2.2" height="7.8" fill="#12125e"/>
<circle cx="2.3" cy="360.8" r="2.3" fill="#0a0a0a"/>
<circle cx="8.98" cy="360.8" r="2.3" fill="#0a0a0a"/>
<circle cx="15.66" cy="360.8" r="2.3" fill="#0a0a0a"/>
<circle cx="22.34" cy="360.8" r="2.3" fill="#0a0a0a"/>
<circle cx="29.02" cy="360.8" r="2.3" fill="#0a0a0a"/>
<circle cx="35.7" cy="360.8" r="2.3" fill="#0a0a0a"/>
<circle cx="42.38" cy="360.8" r="2.3" fill="#0a0a0a"/>
<circle cx="49.06" cy="360.8" r="2.3" fill="#0a0a0a"/>
<circle cx="55.74" cy="360.8" r="2.3" fill="#0a0a0a"/>
<circle cx="62.42" cy="360.8" r="2.3" fill="#0a0a0a"/>
<circle cx="69.1" cy="360.8" r="2.3" fill="#0a0a0a"/>
<circle cx="75.78" cy="360.8" r="2.3" fill="#0a0a0a"/>
<circle cx="82.46" cy="360.8" r="2.3" fill="#0a0a0a"/>
<circle cx="89.14" cy="360.8" r="2.3" fill="#0a0a0a"/>
<circle cx="95.82" cy="360.8" r="2.3" fill="#0a0a0a"/>
<circle cx="316.26" cy="360.8" r="2.3" fill="#0a0a0a"/>
<circle cx="322.94" cy="360.8" r="2.3" fill="#0a0a0a"/>
<circle cx="329.62" cy="360.8" r="2.3" fill="#0a0a0a"/>
<circle cx="336.3" cy="360.8" r="2.3" fill="#0a0a0a"/>
<circle cx="342.98" cy="360.8" r="2.3" fill="#0a0a0a"/>
<circle cx="349.66" cy="360.8" r="2.3" fill="#0a0a0a"/>
<circle cx="356.34" cy="360.8" r="2.3" fill="#0a0a0a"/>
<circle cx="363.02" cy="360.8" r="2.3" fill="#0a0a0a"/>
<circle cx="369.7" cy="360.8" r="2.3" fill="#0a0a0a"/>
<circle cx="376.38" cy="360.8" r="2.3" fill="#0a0a0a"/>
<circle cx="383.06" cy="360.8" r="2.3" fill="#0a0a0a"/>
<circle cx="389.74" cy="360.8" r="2.3" fill="#0a0a0a"/>
<circle cx="396.42" cy="360.8" r="2.3" fill="#0a0a0a"/>
<circle cx="403.1" cy="360.8" r="2.3" fill="#0a0a0a"/>
<circle cx="409.78" cy="360.8" r="2.3" fill="#0a0a0a"/>
<circle cx="416.46" cy="360.8" r="2.3" fill="#0a0a0a"/>
<circle cx="423.14" cy="360.8" r="2.3" fill="#0a0a0a"/>
<circle cx="429.82" cy="360.8" r="2.3" fill="#0a0a0a"/>
<circle cx="436.5" cy="360.8" r="2.3" fill="#0a0a0a"/>
<circle cx="443.18" cy="360.8" r="2.3" fill="#0a0a0a"/>
</g>
<line x1="0" y1="386" x2="779.0" y2="386" stroke="#c8c8de" stroke-width="0.8" stroke-dasharray="1 1.5"/>
<line x1="0" y1="398.8" x2="779.0" y2="398.8" stroke="#c4c4d4" stroke-width="0.7" stroke-dasharray="1 1.5"/>
<line x1="0" y1="401.9" x2="779.0" y2="401.9" stroke="#c4c4d4" stroke-width="0.7" stroke-dasharray="1 1.5"/>
<polyline points="0,402.3 25,401.5 50,402.3 75,403.5 85,404.8 100,407.3 125,407.3 130,406 140,402.3 150,401 162.5,399 175,396 182.5,394.8 190,396 200,399 205,401 215,401 227,399.8 240,399.8 252,401 265,398.5 275,396.5 285,398 295,400.5 310,402.3 325,401 340,398.5 350,398 365,400.5 380,400.5 390,399.8 405,402.3 422.5,402.3 435,397.3 442.5,394 450,395.5 457.5,393 465,394.8 475,397.3 485,398.5 495,397.3 505,398 515,399.8 525,401 535,399.8 545,401 555,403 567.5,404 580,405.5 590,401 600,399 610,401 620,403 632.5,404 645,406 650,406.5 660,404 670,403.5 682.5,403 690,400.5 700,399.8 710,400.5 720,400.5 732.5,400.5 740,399 743.7,398" fill="none" stroke="#a3c4b6" stroke-width="0.5"/>
<polyline points="0,404 10,401 25,402 50,402.3 75,403 85,403.5 100,401 112.5,400.3 125,399.8 130,398.5 140,399 150,401 175,402.3 185,403 190,403.5 197,404.5 205,401 215,400.5 227,402.3 240,404 255,401 265,399.8 277,401 290,401 302.5,399 315,400.5 327.5,402.3 340,403.5 352.5,401 360,399 370,399.8 380,402.3 392.5,404.8 405,406 417.5,404 430,405.5 442.5,406.5 455,408 462.5,405.5 470,404.8 480,405.5 490,405.5 500,402.3 510,401 520,399.8 530,400.5 542.5,401 555,400.5 567.5,397.3 575,395.5 580,394.8 590,397.3 600,399.8 610,399 620,396 627.5,394.8 635,396.5 645,395.5 652.5,394.8 665,396 682.5,395.5 695,398 707.5,399.8 720,401 732.5,401 743.7,402.3" fill="none" stroke="#d9a6b8" stroke-width="0.5"/>
<polyline points="0,391.5 12.5,394.8 25,397.3 50,399 75,400.5 85,401 100,399 112.5,397.5 125,396.8 132.5,396.5 150,399 162.5,400 175,399 190,398.5 200,398.5 215,401 240,401.5 265,402.5 290,403.5 310,405 340,405 365,405.5 377.5,406.5 392.5,406.5 405,405.5 425,404.8 435,402.3 445,399.8 455,397.3 465,396 480,396 490,395.3 497.5,394.3 505,395 515,396.5 530,399 542.5,401 555,402.3 562.5,402.3 572.5,401 582.5,399 595,399 607.5,400.5 620,400.5 632.5,399 645,397.3 657.5,396.5 670,396 682.5,395.5 695,397.3 707.5,399 720,401 732.5,402.3 740,402.3 743.7,401.8" fill="none" stroke="#111118" stroke-width="1.05"/>
<line x1="779.0" y1="0" x2="779.0" y2="412.5" stroke="#c6c6cc" stroke-width="1"/>
<line x1="0" y1="412.5" x2="779.0" y2="412.5" stroke="#c6c6c6" stroke-width="0.8"/>
<line x1="0" y1="422.3" x2="800" y2="422.3" stroke="#cfcfcf" stroke-width="1" stroke-dasharray="1.5 0.7"/>
<g font-size="4" fill="#3e3e3e">
<line x1="779.0" y1="6.5" x2="780.4" y2="6.5" stroke="#777" stroke-width="0.7"/>
<text x="781.2" y="7.95" textLength="15.3" lengthAdjust="spacingAndGlyphs">2130.380</text>
<line x1="779.0" y1="19.87" x2="780.4" y2="19.87" stroke="#777" stroke-width="0.7"/>
<text x="781.2" y="21.32" textLength="15.3" lengthAdjust="spacingAndGlyphs">2103.640</text>
<line x1="779.0" y1="33.24" x2="780.4" y2="33.24" stroke="#777" stroke-width="0.7"/>
<text x="781.2" y="34.69" textLength="15.3" lengthAdjust="spacingAndGlyphs">2076.900</text>
<line x1="779.0" y1="46.61" x2="780.4" y2="46.61" stroke="#777" stroke-width="0.7"/>
<text x="781.2" y="48.06" textLength="15.3" lengthAdjust="spacingAndGlyphs">2050.160</text>
<line x1="779.0" y1="59.98" x2="780.4" y2="59.98" stroke="#777" stroke-width="0.7"/>
<text x="781.2" y="61.43" textLength="15.3" lengthAdjust="spacingAndGlyphs">2023.420</text>
<line x1="779.0" y1="73.35" x2="780.4" y2="73.35" stroke="#777" stroke-width="0.7"/>
<text x="781.2" y="74.8" textLength="15.3" lengthAdjust="spacingAndGlyphs">1996.680</text>
<line x1="779.0" y1="86.72" x2="780.4" y2="86.72" stroke="#777" stroke-width="0.7"/>
<text x="781.2" y="88.17" textLength="15.3" lengthAdjust="spacingAndGlyphs">1969.940</text>
<line x1="779.0" y1="100.09" x2="780.4" y2="100.09" stroke="#777" stroke-width="0.7"/>
<text x="781.2" y="101.54" textLength="15.3" lengthAdjust="spacingAndGlyphs">1943.200</text>
<line x1="779.0" y1="113.46" x2="780.4" y2="113.46" stroke="#777" stroke-width="0.7"/>
<text x="781.2" y="114.91" textLength="15.3" lengthAdjust="spacingAndGlyphs">1916.460</text>
<line x1="779.0" y1="126.83" x2="780.4" y2="126.83" stroke="#777" stroke-width="0.7"/>
<text x="781.2" y="128.28" textLength="15.3" lengthAdjust="spacingAndGlyphs">1889.720</text>
<line x1="779.0" y1="140.2" x2="780.4" y2="140.2" stroke="#777" stroke-width="0.7"/>
<text x="781.2" y="141.65" textLength="15.3" lengthAdjust="spacingAndGlyphs">1862.980</text>
<line x1="779.0" y1="153.57" x2="780.4" y2="153.57" stroke="#777" stroke-width="0.7"/>
<text x="781.2" y="155.02" textLength="15.3" lengthAdjust="spacingAndGlyphs">1836.240</text>
<line x1="779.0" y1="166.94" x2="780.4" y2="166.94" stroke="#777" stroke-width="0.7"/>
<text x="781.2" y="168.39" textLength="15.3" lengthAdjust="spacingAndGlyphs">1809.500</text>
<line x1="779.0" y1="180.31" x2="780.4" y2="180.31" stroke="#777" stroke-width="0.7"/>
<text x="781.2" y="181.76" textLength="15.3" lengthAdjust="spacingAndGlyphs">1782.760</text>
<line x1="779.0" y1="193.68" x2="780.4" y2="193.68" stroke="#777" stroke-width="0.7"/>
<text x="781.2" y="195.13" textLength="15.3" lengthAdjust="spacingAndGlyphs">1756.020</text>
<line x1="779.0" y1="207.05" x2="780.4" y2="207.05" stroke="#777" stroke-width="0.7"/>
<text x="781.2" y="208.5" textLength="15.3" lengthAdjust="spacingAndGlyphs">1729.280</text>
<line x1="779.0" y1="220.42" x2="780.4" y2="220.42" stroke="#777" stroke-width="0.7"/>
<text x="781.2" y="221.87" textLength="15.3" lengthAdjust="spacingAndGlyphs">1702.540</text>
<line x1="779.0" y1="233.79" x2="780.4" y2="233.79" stroke="#777" stroke-width="0.7"/>
<text x="781.2" y="235.24" textLength="15.3" lengthAdjust="spacingAndGlyphs">1675.800</text>
<line x1="779.0" y1="247.16" x2="780.4" y2="247.16" stroke="#777" stroke-width="0.7"/>
<text x="781.2" y="248.61" textLength="15.3" lengthAdjust="spacingAndGlyphs">1649.060</text>
<line x1="779.0" y1="260.53" x2="780.4" y2="260.53" stroke="#777" stroke-width="0.7"/>
<text x="781.2" y="261.98" textLength="15.3" lengthAdjust="spacingAndGlyphs">1622.320</text>
<line x1="779.0" y1="273.9" x2="780.4" y2="273.9" stroke="#777" stroke-width="0.7"/>
<text x="781.2" y="275.35" textLength="15.3" lengthAdjust="spacingAndGlyphs">1595.580</text>
<line x1="779.0" y1="287.27" x2="780.4" y2="287.27" stroke="#777" stroke-width="0.7"/>
<text x="781.2" y="288.72" textLength="15.3" lengthAdjust="spacingAndGlyphs">1568.840</text>
<line x1="779.0" y1="300.64" x2="780.4" y2="300.64" stroke="#777" stroke-width="0.7"/>
<text x="781.2" y="302.09" textLength="15.3" lengthAdjust="spacingAndGlyphs">1542.100</text>
<line x1="779.0" y1="314.01" x2="780.4" y2="314.01" stroke="#777" stroke-width="0.7"/>
<text x="781.2" y="315.46" textLength="15.3" lengthAdjust="spacingAndGlyphs">1515.360</text>
<line x1="779.0" y1="327.38" x2="780.4" y2="327.38" stroke="#777" stroke-width="0.7"/>
<text x="781.2" y="328.83" textLength="15.3" lengthAdjust="spacingAndGlyphs">1488.620</text>
<text x="781.2" y="345.4" textLength="13.4" lengthAdjust="spacingAndGlyphs">762.824</text>
<text x="781.2" y="375" textLength="15.3" lengthAdjust="spacingAndGlyphs">-930.370</text>
<text x="781.2" y="380.4" textLength="9.6" lengthAdjust="spacingAndGlyphs">60.03</text>
<text x="781.2" y="411.4" textLength="7.8" lengthAdjust="spacingAndGlyphs">6.19</text>
</g>
<rect x="779.6" y="35" width="18.6" height="4" fill="#1c1c44"/>
<text x="781" y="38.45" font-size="3.9" fill="#fff" fill-opacity="0.9" textLength="16.2" lengthAdjust="spacingAndGlyphs">2069.605</text>
<rect x="779.6" y="152.6" width="18.6" height="4" fill="#aeaeae"/>
<text x="781" y="156.05" font-size="3.9" fill="#e6e6e6" fill-opacity="0.9" textLength="16.2" lengthAdjust="spacingAndGlyphs">1834.884</text>
<rect x="779.6" y="230.8" width="18.6" height="4" fill="#1c1c44"/>
<text x="781" y="234.25" font-size="3.9" fill="#fff" fill-opacity="0.9" textLength="16.2" lengthAdjust="spacingAndGlyphs">1676.822</text>
<rect x="779.6" y="263.3" width="18.6" height="4" fill="#1c1c44"/>
<text x="781" y="266.75" font-size="3.9" fill="#fff" fill-opacity="0.9" textLength="16.2" lengthAdjust="spacingAndGlyphs">1613.261</text>
<rect x="779.6" y="384" width="12.4" height="4" fill="#1c1c44"/>
<text x="781" y="387.45" font-size="3.9" fill="#fff" fill-opacity="0.9" textLength="10" lengthAdjust="spacingAndGlyphs">40.00</text>
<rect x="779.6" y="396.2" width="12.4" height="4" fill="#1c1c44"/>
<text x="781" y="399.65" font-size="3.9" fill="#fff" fill-opacity="0.9" textLength="10" lengthAdjust="spacingAndGlyphs">24.00</text>
<rect x="779.6" y="400.3" width="12.4" height="4" fill="#1c1c44"/>
<text x="781" y="403.75" font-size="3.9" fill="#fff" fill-opacity="0.9" textLength="10" lengthAdjust="spacingAndGlyphs">19.00</text>
<g font-size="4" fill="#3e3e3e">
<line x1="-4.38" y1="412.5" x2="-4.38" y2="414.5" stroke="#666" stroke-width="0.7"/>
<text x="-3.98" y="418.1" textLength="18.6" lengthAdjust="spacingAndGlyphs">8 Nov 2020</text>
<line x1="22.34" y1="412.5" x2="22.34" y2="414.5" stroke="#666" stroke-width="0.7"/>
<text x="22.74" y="418.1" textLength="18.6" lengthAdjust="spacingAndGlyphs">6 Dec 2020</text>
<line x1="49.06" y1="412.5" x2="49.06" y2="414.5" stroke="#666" stroke-width="0.7"/>
<text x="49.46" y="418.1" textLength="18.6" lengthAdjust="spacingAndGlyphs">3 Jan 2021</text>
<line x1="75.78" y1="412.5" x2="75.78" y2="414.5" stroke="#666" stroke-width="0.7"/>
<text x="76.18" y="418.1" textLength="20.6" lengthAdjust="spacingAndGlyphs">31 Jan 2021</text>
<line x1="102.5" y1="412.5" x2="102.5" y2="414.5" stroke="#666" stroke-width="0.7"/>
<text x="102.9" y="418.1" textLength="20.6" lengthAdjust="spacingAndGlyphs">28 Feb 2021</text>
<line x1="129.22" y1="412.5" x2="129.22" y2="414.5" stroke="#666" stroke-width="0.7"/>
<text x="129.62" y="418.1" textLength="20.6" lengthAdjust="spacingAndGlyphs">28 Mar 2021</text>
<line x1="155.94" y1="412.5" x2="155.94" y2="414.5" stroke="#666" stroke-width="0.7"/>
<text x="156.34" y="418.1" textLength="20.6" lengthAdjust="spacingAndGlyphs">25 Apr 2021</text>
<line x1="182.66" y1="412.5" x2="182.66" y2="414.5" stroke="#666" stroke-width="0.7"/>
<text x="183.06" y="418.1" textLength="20.6" lengthAdjust="spacingAndGlyphs">23 May 2021</text>
<line x1="209.38" y1="412.5" x2="209.38" y2="414.5" stroke="#666" stroke-width="0.7"/>
<text x="209.78" y="418.1" textLength="20.6" lengthAdjust="spacingAndGlyphs">20 Jun 2021</text>
<line x1="236.1" y1="412.5" x2="236.1" y2="414.5" stroke="#666" stroke-width="0.7"/>
<text x="236.5" y="418.1" textLength="20.6" lengthAdjust="spacingAndGlyphs">18 Jul 2021</text>
<line x1="262.82" y1="412.5" x2="262.82" y2="414.5" stroke="#666" stroke-width="0.7"/>
<text x="263.22" y="418.1" textLength="20.6" lengthAdjust="spacingAndGlyphs">15 Aug 2021</text>
<line x1="289.54" y1="412.5" x2="289.54" y2="414.5" stroke="#666" stroke-width="0.7"/>
<text x="289.94" y="418.1" textLength="20.6" lengthAdjust="spacingAndGlyphs">12 Sep 2021</text>
<line x1="316.26" y1="412.5" x2="316.26" y2="414.5" stroke="#666" stroke-width="0.7"/>
<text x="316.66" y="418.1" textLength="20.6" lengthAdjust="spacingAndGlyphs">10 Oct 2021</text>
<line x1="342.98" y1="412.5" x2="342.98" y2="414.5" stroke="#666" stroke-width="0.7"/>
<text x="343.38" y="418.1" textLength="18.6" lengthAdjust="spacingAndGlyphs">7 Nov 2021</text>
<line x1="369.7" y1="412.5" x2="369.7" y2="414.5" stroke="#666" stroke-width="0.7"/>
<text x="370.1" y="418.1" textLength="18.6" lengthAdjust="spacingAndGlyphs">5 Dec 2021</text>
<line x1="396.42" y1="412.5" x2="396.42" y2="414.5" stroke="#666" stroke-width="0.7"/>
<text x="396.82" y="418.1" textLength="18.6" lengthAdjust="spacingAndGlyphs">2 Jan 2022</text>
<line x1="423.14" y1="412.5" x2="423.14" y2="414.5" stroke="#666" stroke-width="0.7"/>
<text x="423.54" y="418.1" textLength="20.6" lengthAdjust="spacingAndGlyphs">30 Jan 2022</text>
<line x1="449.86" y1="412.5" x2="449.86" y2="414.5" stroke="#666" stroke-width="0.7"/>
<text x="450.26" y="418.1" textLength="20.6" lengthAdjust="spacingAndGlyphs">27 Feb 2022</text>
<line x1="476.58" y1="412.5" x2="476.58" y2="414.5" stroke="#666" stroke-width="0.7"/>
<text x="476.98" y="418.1" textLength="20.6" lengthAdjust="spacingAndGlyphs">27 Mar 2022</text>
<line x1="503.3" y1="412.5" x2="503.3" y2="414.5" stroke="#666" stroke-width="0.7"/>
<text x="503.7" y="418.1" textLength="20.6" lengthAdjust="spacingAndGlyphs">24 Apr 2022</text>
<line x1="530.02" y1="412.5" x2="530.02" y2="414.5" stroke="#666" stroke-width="0.7"/>
<text x="530.42" y="418.1" textLength="20.6" lengthAdjust="spacingAndGlyphs">22 May 2022</text>
<line x1="556.74" y1="412.5" x2="556.74" y2="414.5" stroke="#666" stroke-width="0.7"/>
<text x="557.14" y="418.1" textLength="20.6" lengthAdjust="spacingAndGlyphs">19 Jun 2022</text>
<line x1="583.46" y1="412.5" x2="583.46" y2="414.5" stroke="#666" stroke-width="0.7"/>
<text x="583.86" y="418.1" textLength="20.6" lengthAdjust="spacingAndGlyphs">17 Jul 2022</text>
<line x1="610.18" y1="412.5" x2="610.18" y2="414.5" stroke="#666" stroke-width="0.7"/>
<text x="610.58" y="418.1" textLength="20.6" lengthAdjust="spacingAndGlyphs">14 Aug 2022</text>
<line x1="636.9" y1="412.5" x2="636.9" y2="414.5" stroke="#666" stroke-width="0.7"/>
<text x="637.3" y="418.1" textLength="20.6" lengthAdjust="spacingAndGlyphs">11 Sep 2022</text>
<line x1="663.62" y1="412.5" x2="663.62" y2="414.5" stroke="#666" stroke-width="0.7"/>
<text x="664.02" y="418.1" textLength="18.6" lengthAdjust="spacingAndGlyphs">9 Oct 2022</text>
<line x1="690.34" y1="412.5" x2="690.34" y2="414.5" stroke="#666" stroke-width="0.7"/>
<text x="690.74" y="418.1" textLength="18.6" lengthAdjust="spacingAndGlyphs">6 Nov 2022</text>
<line x1="717.06" y1="412.5" x2="717.06" y2="414.5" stroke="#666" stroke-width="0.7"/>
<text x="717.46" y="418.1" textLength="18.6" lengthAdjust="spacingAndGlyphs">4 Dec 2022</text>
<line x1="743.78" y1="412.5" x2="743.78" y2="414.5" stroke="#666" stroke-width="0.7"/>
<text x="744.18" y="418.1" textLength="18.6" lengthAdjust="spacingAndGlyphs">1 Jan 2023</text>
</g>
</svg></body></html>
